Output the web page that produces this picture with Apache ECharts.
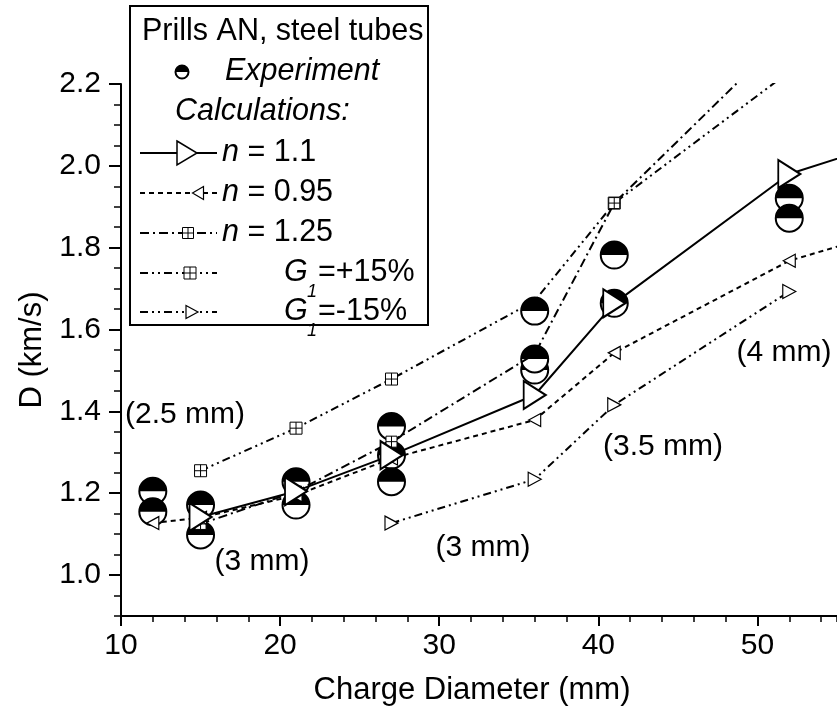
<!DOCTYPE html>
<html><head><meta charset="utf-8">
<script src="https://cdn.jsdelivr.net/npm/echarts@6/dist/echarts.min.js"></script>
<style>html,body{margin:0;padding:0;background:#fff}#c{width:837px;height:720px}</style>
</head><body><div id="c"></div>
<script>
// ---- data ----
const expX = [12, 12, 15, 15, 21, 21, 27, 27, 27, 36, 36, 36, 41, 41, 52, 52];
const expY = [1.205, 1.155, 1.171, 1.098, 1.228, 1.171, 1.363, 1.293, 1.228, 1.501, 1.645, 1.528, 1.782, 1.664, 1.921, 1.872];
const n110X = [15, 21, 27, 36, 41, 52, 60];
const n110Y = [1.142, 1.205, 1.293, 1.440, 1.664, 1.980, 2.080];
const n095X = [12, 15, 21, 27, 36, 41, 52, 60];
const n095Y = [1.127, 1.140, 1.195, 1.285, 1.379, 1.543, 1.768, 1.860];
const n125X = [15, 21, 27, 36, 41, 52];
const n125Y = [1.125, 1.204, 1.326, 1.540, 1.909, 2.327];
const gPlusX = [15, 21, 27, 36, 41, 52];
const gPlusY = [1.255, 1.359, 1.479, 1.670, 1.909, 2.230];
const gMinusX = [27, 36, 41, 52];
const gMinusY = [1.127, 1.234, 1.416, 1.693];
const yTickLabels = [1.0, 1.2, 1.4, 1.6, 1.8, 2.0, 2.2];
const xTickLabels = [10, 20, 30, 40, 50];
const notes = ['(2.5 mm)', '(3 mm)', '(3 mm)', '(3.5 mm)', '(4 mm)'];
const legendTitle = 'Prills AN, steel tubes';
const xTitle = 'Charge Diameter (mm)';
const yTitle = 'D (km/s)';

// ---- chart ----
const FONT = 'Liberation Sans, Arial, sans-serif';
const zip = (a, b) => a.map((v, i) => [v, b[i]]);
const SQ = 'path://M0,0H10V10H0Z M5,0V10 M0,5H10';
const chart = echarts.init(document.getElementById('c'), null, {renderer: 'canvas'});

// markers hidden behind the experimental circles (x values)
const hideAt = [36];
function lineSeries(name, xs, ys, dash, symbol, size, rot, bw, hidden) {
  const data = zip(xs, ys).map(p => (hidden && hidden.includes(p[0])) ? {value: p, symbol: 'none'} : p);
  return {
    name, type: 'line', data, z: 3, clip: true,
    symbol, symbolSize: size, symbolRotate: rot, showAllSymbol: true,
    lineStyle: {color: '#000', width: 2, type: dash},
    itemStyle: {color: '#fff', borderColor: '#000', borderWidth: bw},
    emphasis: {disabled: true}, animation: false
  };
}

const notePos = [[185, 415], [262, 562], [483, 548], [663, 447], [784, 353]];
const graphic = [];
notes.forEach((t, i) => graphic.push({
  type: 'text', z: 20,
  style: {text: t, x: notePos[i][0], y: notePos[i][1], align: 'center', verticalAlign: 'middle',
          fontSize: 30, fontFamily: FONT, fill: '#000'}
}));
graphic.push({type: 'text', z: 20, style: {text: xTitle, x: 472, y: 690, align: 'center', verticalAlign: 'middle',
  fontSize: 31, fontFamily: FONT, fill: '#000'}});

// legend box
const LX0 = 140, LX1 = 217, LF = 30.5;
graphic.push({type: 'rect', z: 20, shape: {x: 130, y: 6, width: 298, height: 319},
  style: {fill: '#fff', stroke: '#000', lineWidth: 2}});
function ltext(t, x, y, italic, size) {
  graphic.push({type: 'text', z: 22, style: {text: t, x, y, align: 'left', verticalAlign: 'middle',
    fontSize: size || LF, fontFamily: FONT, fontStyle: italic ? 'italic' : 'normal', fill: '#000'}});
}
function rtext(t, x, y) {
  graphic.push({type: 'text', z: 22, style: {text: t, x, y, align: 'left', verticalAlign: 'middle',
    fontSize: LF, fontFamily: FONT, fill: '#000',
    rich: {i: {fontStyle: 'italic', fontSize: LF, fontFamily: FONT}}}});
}
function lline(y, dash) {
  graphic.push({type: 'line', z: 21, shape: {x1: LX0, y1: y, x2: LX1, y2: y},
    style: {stroke: '#000', lineWidth: 2, lineDash: dash}});
}
function triR(cx, cy, w, h, lw) {
  graphic.push({type: 'polygon', z: 22, shape: {points: [[cx - w / 2, cy - h / 2], [cx + w / 2, cy], [cx - w / 2, cy + h / 2]]},
    style: {fill: '#fff', stroke: '#000', lineWidth: lw}});
}
function triL(cx, cy, w, h, lw) {
  graphic.push({type: 'polygon', z: 22, shape: {points: [[cx + w / 2, cy - h / 2], [cx - w / 2, cy], [cx + w / 2, cy + h / 2]]},
    style: {fill: '#fff', stroke: '#000', lineWidth: lw}});
}
function sq(cx, cy, s) {
  graphic.push({type: 'rect', z: 22, shape: {x: cx - s / 2, y: cy - s / 2, width: s, height: s},
    style: {fill: '#fff', stroke: '#000', lineWidth: 1}});
  graphic.push({type: 'line', z: 22, shape: {x1: cx, y1: cy - s / 2, x2: cx, y2: cy + s / 2}, style: {stroke: '#000', lineWidth: 1}});
  graphic.push({type: 'line', z: 22, shape: {x1: cx - s / 2, y1: cy, x2: cx + s / 2, y2: cy}, style: {stroke: '#000', lineWidth: 1}});
}
ltext(legendTitle, 142, 32, false);
graphic.push({type: 'circle', z: 22, shape: {cx: 182, cy: 72, r: 6.5}, style: {fill: '#fff', stroke: '#000', lineWidth: 2}});
graphic.push({type: 'sector', z: 23, shape: {cx: 182, cy: 72, r0: 0, r: 6.5, startAngle: Math.PI, endAngle: 2 * Math.PI}, style: {fill: '#000'}});
ltext('Experiment', 225, 72, true);
ltext('Calculations:', 175, 112, true);
lline(153, null); triR(187, 153, 20, 24, 1.5); rtext('{i|n} = 1.1', 222, 153);
lline(193, [5, 4]); triL(198, 193, 11, 13, 1.2); rtext('{i|n} = 0.95', 222, 193);
lline(233, [9, 4, 2, 4]); sq(188, 233, 11); rtext('{i|n} = 1.25', 222, 233);
lline(273, [8, 4, 2, 4, 2, 4]); sq(190, 273, 12);
ltext('G', 284, 273, true); ltext('1', 307, 292, true, 18); ltext('=+15%', 318, 273, false);
lline(312, [8, 4, 2, 4, 2, 4]); triR(192, 312, 12, 13, 1.2);
ltext('G', 284, 312, true); ltext('1', 307, 331, true, 18); ltext('=-15%', 318, 312, false);

const option = {
  animation: false,
  backgroundColor: '#fff',
  grid: {left: 121, top: 84, right: 0, height: 532, containLabel: false},
  xAxis: [{
    type: 'value', min: 10, max: 55, interval: 10,
    axisLine: {lineStyle: {color: '#000', width: 2}},
    axisTick: {inside: false, customValues: xTickLabels, length: 10, lineStyle: {color: '#000', width: 2}},
    axisLabel: {customValues: xTickLabels, fontSize: 30, fontFamily: FONT, color: '#000', margin: 15},
    splitLine: {show: false}
  }, {
    type: 'value', min: 10, max: 55, interval: 2, position: 'bottom',
    axisLine: {show: false},
    axisTick: {show: true, inside: false, length: 6, lineStyle: {color: '#000', width: 1.5}},
    axisLabel: {show: false}, splitLine: {show: false}
  }],
  yAxis: [{
    type: 'value', min: 0.9, max: 2.2, position: 'left',
    name: yTitle, nameLocation: 'middle', nameGap: 62,
    nameTextStyle: {fontSize: 31, fontFamily: FONT, color: '#000'},
    axisLine: {show: true, lineStyle: {color: '#000', width: 2}},
    axisTick: {show: true, customValues: yTickLabels, inside: false, length: 12, lineStyle: {color: '#000', width: 2}},
    axisLabel: {customValues: yTickLabels, formatter: v => Number(v).toFixed(1), fontSize: 30, fontFamily: FONT, color: '#000', margin: 20},
    splitLine: {show: false}
  }, {
    type: 'value', min: 0.9, max: 2.2, interval: 0.05, position: 'left',
    axisLine: {show: false},
    axisTick: {show: true, inside: false, length: 7, lineStyle: {color: '#000', width: 1.5}},
    axisLabel: {show: false}, splitLine: {show: false}
  }],
  series: [
    {
      name: 'Experiment', type: 'custom', z: 2, clip: true,
      data: zip(expX, expY),
      renderItem(params, api) {
        const p = api.coord([api.value(0), api.value(1)]);
        const r = 13.5;
        return {type: 'group', children: [
          {type: 'circle', shape: {cx: p[0], cy: p[1], r}, style: {fill: '#fff', stroke: '#000', lineWidth: 2}},
          {type: 'sector', shape: {cx: p[0], cy: p[1], r0: 0, r, startAngle: Math.PI, endAngle: 2 * Math.PI}, style: {fill: '#000'}}
        ]};
      }
    },
    lineSeries('G1=+15%', gPlusX, gPlusY, [8, 4, 2, 4, 2, 4], SQ, 12, 0, 1, hideAt),
    lineSeries('n=1.25', n125X, n125Y, [9, 4, 2, 4], SQ, 11, 0, 1, hideAt),
    lineSeries('G1=-15%', gMinusX, gMinusY, [8, 4, 2, 4, 2, 4], 'triangle', [14, 13], -90, 1.2),
    lineSeries('n=0.95', n095X, n095Y, [5, 4], 'triangle', [13, 12], 90, 1.2),
    lineSeries('n=1.1', n110X, n110Y, 'solid', 'triangle', [28, 22], -90, 2)
  ],
  graphic
};
chart.setOption(option);
</script>
</body></html>
